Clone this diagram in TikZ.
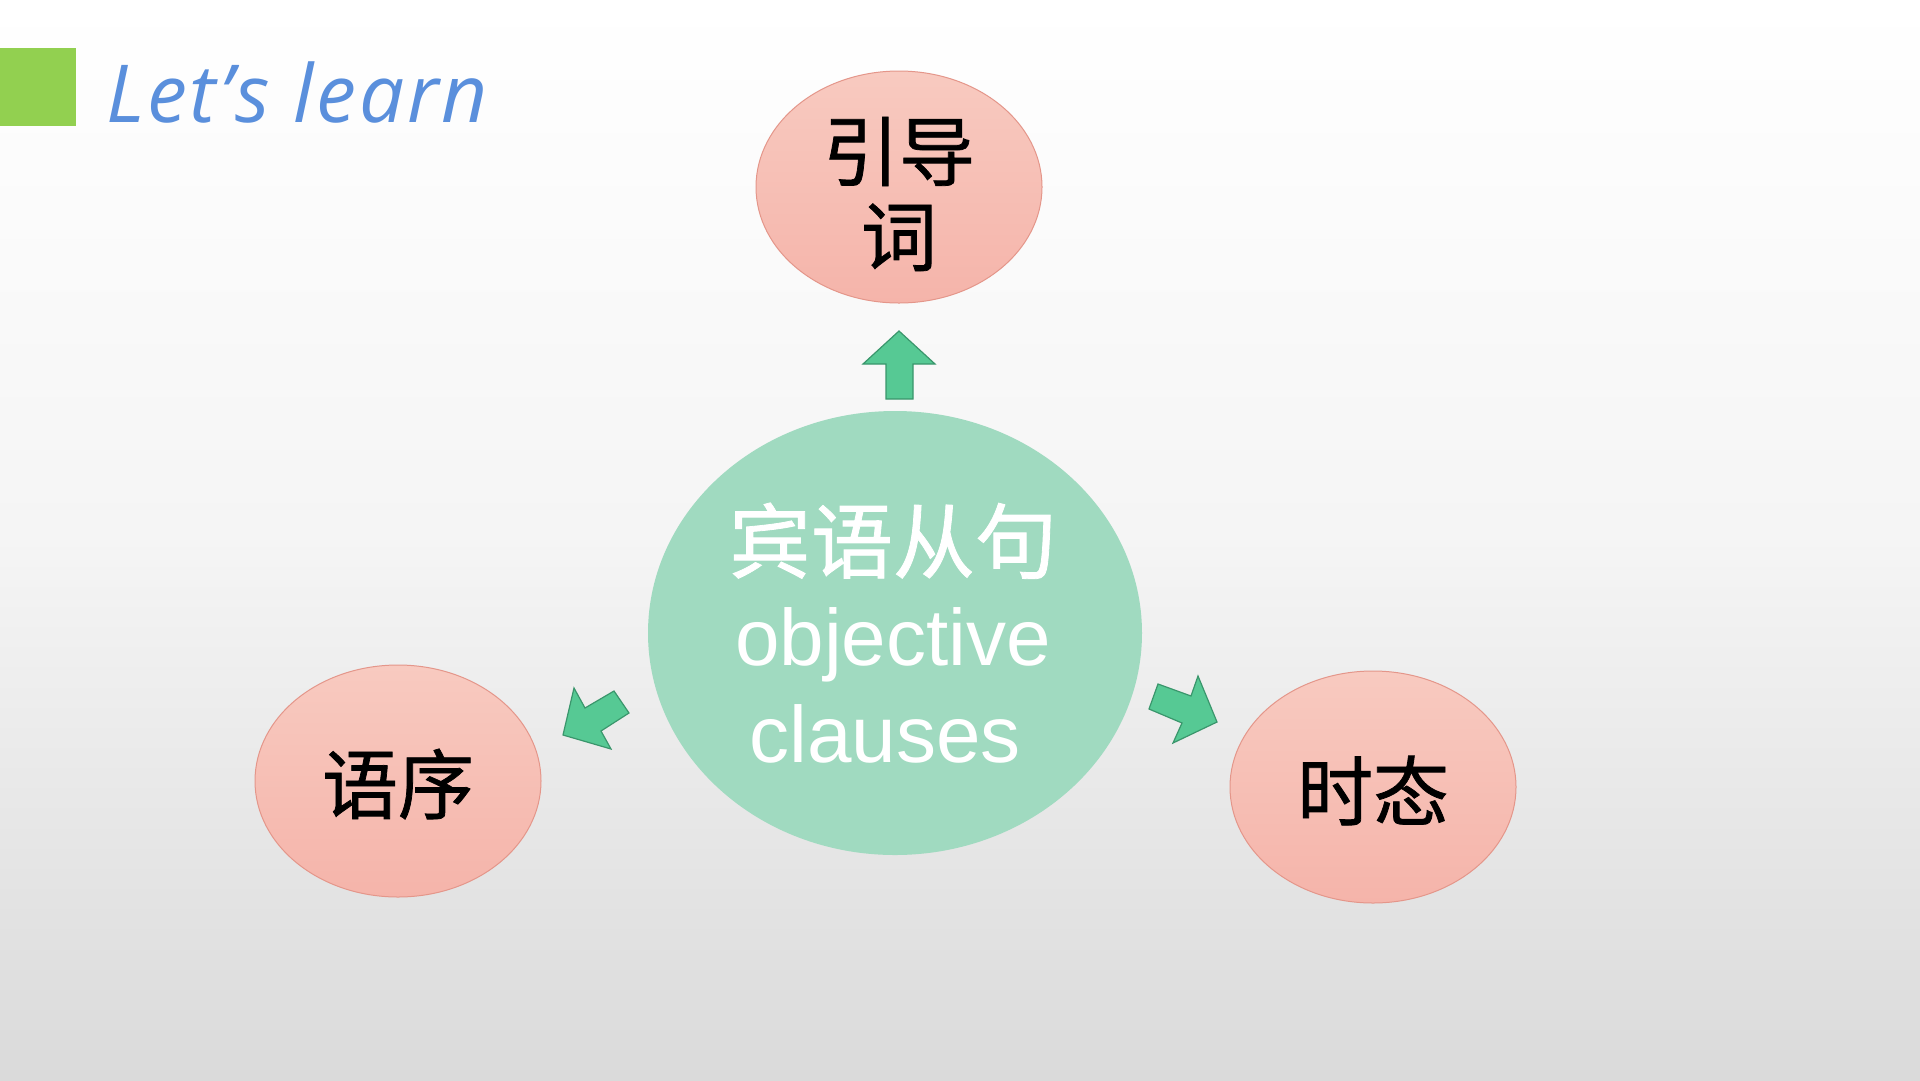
\documentclass[tikz,border=0pt]{standalone}
\usepackage{fontspec}
\setmainfont{Liberation Sans}
\newfontfamily\cjk[FakeBold=1]{Noto Sans CJK SC}
\newfontfamily\titlefont[LetterSpace=3.5]{Open Sans}
\usetikzlibrary{shapes.geometric}
\definecolor{bgbot}{RGB}{218,218,218}
\definecolor{pinktop}{RGB}{248,202,192}
\definecolor{pinkbot}{RGB}{245,180,170}
\definecolor{pinkline}{RGB}{228,150,138}
\definecolor{minfill}{RGB}{160,218,192}
\definecolor{arrowfill}{RGB}{86,201,148}
\definecolor{arrowline}{RGB}{58,150,108}
\definecolor{titleblue}{RGB}{90,143,220}
\definecolor{sqgreen}{RGB}{146,208,80}
\tikzset{
  x=1pt, y=-1pt,
  pinkoval/.style={ellipse, draw=pinkline, line width=1pt, top color=pinktop, bottom color=pinkbot,
    minimum width=286pt, minimum height=232pt, inner sep=0pt},
  mainoval/.style={ellipse, fill=minfill,
    minimum width=494pt, minimum height=444pt, inner sep=0pt},
  blockarrow/.style={fill=arrowfill, draw=arrowline, line width=1.2pt, line join=miter},
  cjklabel/.style={anchor=base, inner sep=0pt, font=\cjk\fontsize{76}{76}\selectfont, text=black},
  whitecjk/.style={anchor=base, inner sep=0pt, font=\cjk\fontsize{82}{82}\selectfont, text=white},
  whitelat/.style={anchor=base, inner sep=0pt, font=\fontsize{80}{80}\selectfont, text=white},
}
\begin{document}
\begin{tikzpicture}
\useasboundingbox (0,0) rectangle (1920,1080);
\shade[top color=white, bottom color=bgbot, middle color=gray!8] (0,0) rectangle (1920,1080);
% title
\fill[sqgreen] (0,48) rectangle (76,126) coordinate (sq);
\node[anchor=base west, inner sep=0pt, text=titleblue, font=\titlefont\itshape\fontsize{80}{80}\selectfont] (title) at (106,122) {Let’s learn};
% ovals
\node[pinkoval] (top) at (899,187) {};
\node[mainoval] (main) at (895,633) {};
\node[pinkoval] (left) at (398,781) {};
\node[pinkoval] (right) at (1373,787) {};
% labels
\node[cjklabel] (t1) at (899,180) {引导};
\node[cjklabel] (t2) at (899,265) {词};
\node[cjklabel] (l1) at (398,813) {语序};
\node[cjklabel] (r1) at (1373,820) {时态};
\node[whitecjk] (m1) at (893,572) {宾语从句};
\node[whitelat] (m2) at (893,665) {objective};
\node[whitelat] (m3) at (885,762) {clauses};
% block arrows
\draw[blockarrow] (899,331) -- (935,364) -- (913,364) -- (913,399) -- (886,399) -- (886,364) -- (863,364) -- cycle;
\draw[blockarrow] (563,735) -- (574,688) -- (585,708) -- (614,691) -- (629,713) -- (601,731) -- (611,749) -- cycle;
\draw[blockarrow] (1217,722) -- (1198,676) -- (1191,696) -- (1158,684) -- (1149,709) -- (1182,723) -- (1173,743) -- cycle;
\end{tikzpicture}
\end{document}
